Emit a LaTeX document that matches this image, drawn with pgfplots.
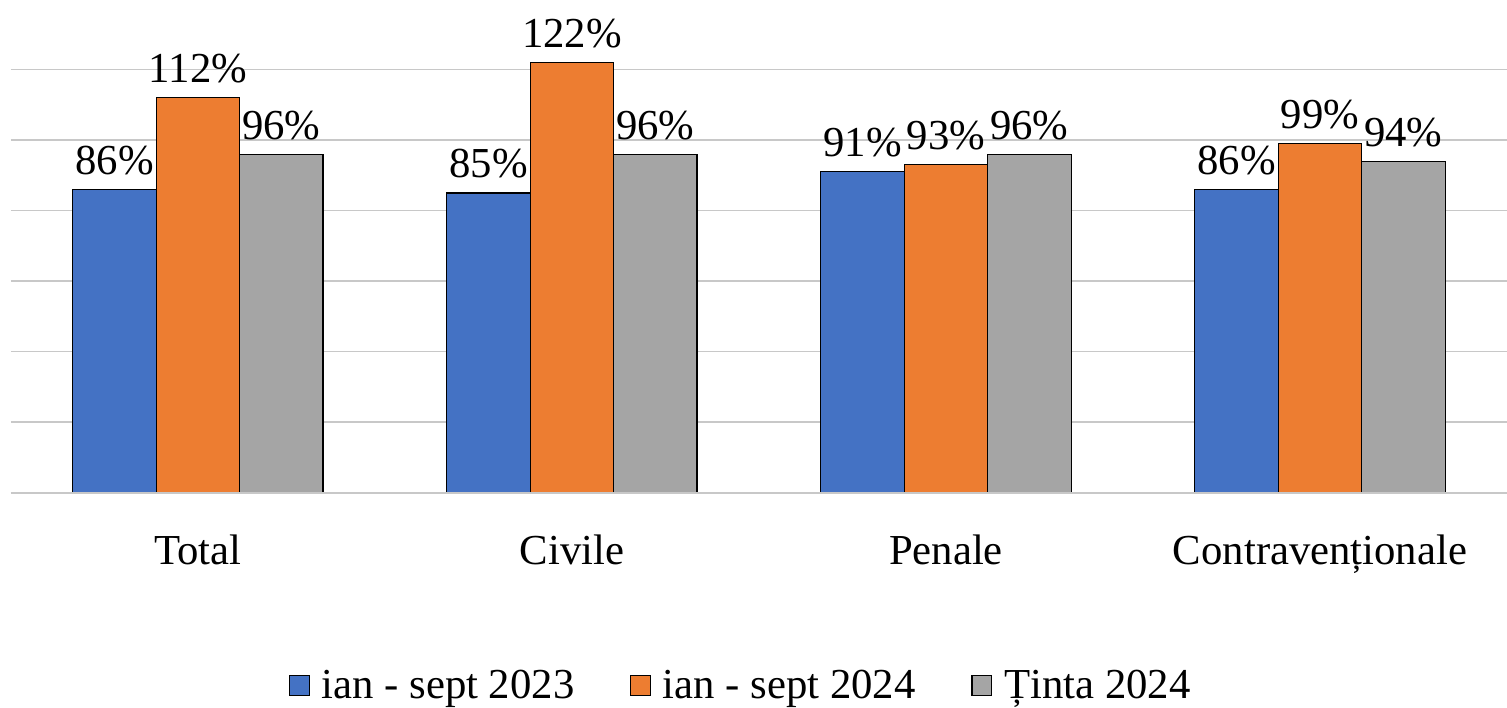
\documentclass[border=0pt]{standalone}
\usepackage{fontspec}
\setmainfont{Liberation Serif}
\usepackage{pgfplots}
\pgfplotsset{compat=1.18}
\definecolor{cblue}{HTML}{4472C4}
\definecolor{corange}{HTML}{ED7D31}
\definecolor{cgray}{HTML}{A5A5A5}
\definecolor{cgrid}{HTML}{C8C8C8}
\begin{document}
\begin{tikzpicture}
\begin{axis}[
  scale only axis,
  width=753pt, height=213pt,
  xmin=-0.5, xmax=3.5, ymin=0, ymax=120,
  clip=false,
  axis line style={draw=none},
  ybar, bar width=0.223,
  xtick={0,1,2,3},
  xticklabels={Total,Civile,Penale,Contravenționale},
  xtick style={draw=none},
  x tick label style={font=\fontsize{21.5}{24}\selectfont, anchor=base, yshift=-32pt},
  ytick={0,20,40,60,80,100,120},
  yticklabels={},
  ytick style={draw=none},
  ymajorgrids,
  major grid style={cgrid, line width=0.8pt},
  /pgf/number format/assume math mode=true,
  nodes near coords={\pgfmathprintnumber{\pgfplotspointmeta}\%},
  every node near coord/.append style={font=\fontsize{21.5}{24}\selectfont, black, inner sep=2pt, yshift=5pt},
  legend style={draw=none, fill=none, at={(0.4884,-0.456)}, anchor=center, legend columns=3,
     font=\fontsize{21.5}{24}\selectfont, /tikz/every even column/.append style={column sep=26pt}},
  legend image code/.code={\draw[#1, draw=black, line width=0.6pt] (0pt,-5pt) rectangle (10pt,5pt); \path (14pt,0pt);},
]
\addplot[fill=cblue, draw=black, line width=0.6pt, bar shift=-0.223] coordinates {(0,86) (1,85) (2,91) (3,86)};
\addplot[fill=corange, draw=black, line width=0.6pt, bar shift=0] coordinates {(0,112) (1,122) (2,93) (3,99)};
\addplot[fill=cgray, draw=black, line width=0.6pt, bar shift=0.223] coordinates {(0,96) (1,96) (2,96) (3,94)};
\legend{ian - sept 2023, ian - sept 2024, Ținta 2024}
\draw[cgrid, line width=0.8pt] (rel axis cs:0,0) -- (rel axis cs:1,0);
\end{axis}
\pgfresetboundingbox
\path (current axis.south west) ++(-5.5pt,-108pt) coordinate (bl);
\path (current axis.north east) ++(-5pt,35pt) coordinate (tr);
\path[use as bounding box] (bl) rectangle (tr);
\end{tikzpicture}
\end{document}
